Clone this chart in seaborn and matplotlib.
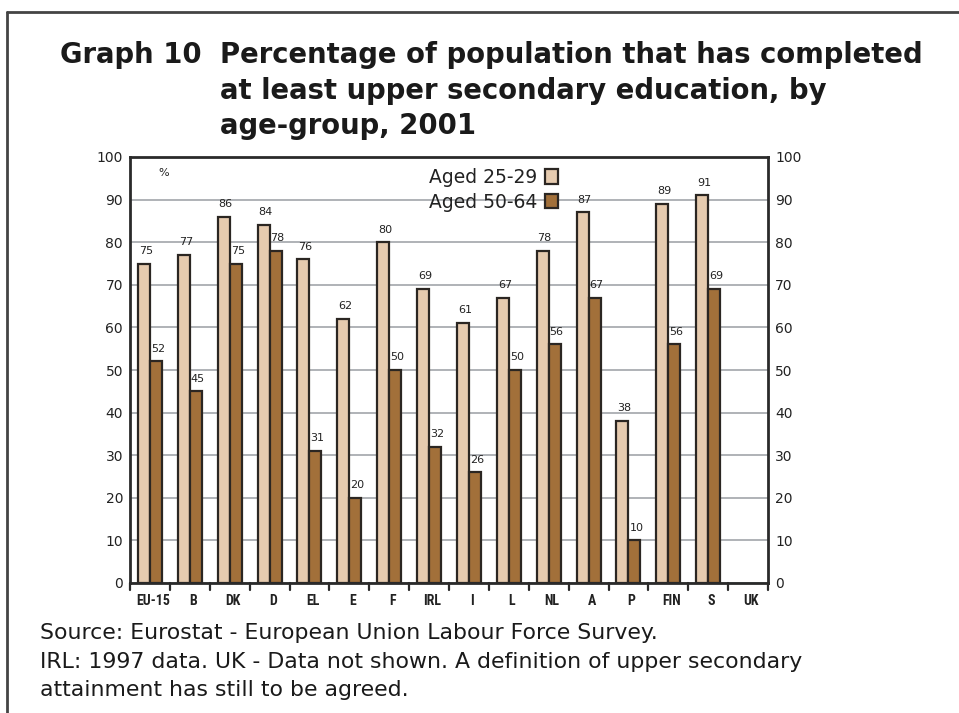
import numpy as np
import pandas as pd
import matplotlib
matplotlib.use("Agg")
import matplotlib.pyplot as plt
from matplotlib import font_manager
from matplotlib.lines import Line2D
import seaborn as sns

# Countries and shares (%) by age group
countries = ["EU-15", "B", "DK", "D", "EL", "E", "F", "IRL", "I", "L",
             "NL", "A", "P", "FIN", "S", "UK"]
aged_25_29 = [75, 77, 86, 84, 76, 62, 80, 69, 61, 67, 78, 87, 38, 89, 91, np.nan]
aged_50_64 = [52, 45, 75, 78, 31, 20, 50, 32, 26, 50, 56, 67, 10, 56, 69, np.nan]
series_names = ["Aged 25-29", "Aged 50-64"]
y_ticks = list(range(0, 101, 10))

available = {f.name for f in font_manager.fontManager.ttflist}
def pick(*names):
    for n in names:
        if n in available:
            return n
    return "DejaVu Sans"

narrow = pick("Liberation Sans Narrow", "Roboto Condensed", "Liberation Sans")
wide = "DejaVu Sans"

sns.set_theme(style="white")
plt.rcParams["font.family"] = [wide]

rows = []
for c, a, b in zip(countries, aged_25_29, aged_50_64):
    if not np.isnan(a):
        rows.append((c, series_names[0], a))
    if not np.isnan(b):
        rows.append((c, series_names[1], b))
df = pd.DataFrame(rows, columns=["country", "group", "value"])

W, H = 959, 713
fig = plt.figure(figsize=(W / 100, H / 100), dpi=100)
fig.patch.set_facecolor("white")

def fx(px):
    return px / W

def fy(py):
    return 1 - py / H

ax = fig.add_axes([fx(130), fy(583), fx(768) - fx(130), fy(157) - fy(583)])

light = "#E6CBAF"
dark = "#A2703A"
edge = "#2b2622"
sns.barplot(data=df, x="country", y="value", hue="group", order=countries,
            hue_order=series_names, palette=[light, dark], width=0.6,
            edgecolor=edge, linewidth=1.6, saturation=1, ax=ax,
            legend=False)

ax.set_ylim(0, 100)
ax.set_xlim(-0.5, len(countries) - 0.5)
ax.set_yticks(y_ticks)
ax.yaxis.grid(True, color="#a9adb1", linewidth=1.3)
ax.set_axisbelow(True)
ax.set_xlabel("")
ax.set_ylabel("")
for s in ax.spines.values():
    s.set_visible(True)
    s.set_color("#2a2a2a")
    s.set_linewidth(2)

ax.tick_params(axis="y", which="both", length=0, labelsize=10, pad=5,
               labelright=True, right=False, labelcolor="#222222")
ax.set_xticks(np.arange(len(countries)) + 0.08)
ax.set_xticklabels(countries, fontsize=10, fontfamily=narrow,
                   fontweight="bold", color="#222222")
ax.tick_params(axis="x", length=0, pad=8)
# small separators between country groups below the axis
for k in range(len(countries) + 1):
    ax.add_line(Line2D([k - 0.5, k - 0.5], [0, -1.6], color="#2a2a2a",
                       linewidth=1.6, clip_on=False))

# value labels above bars
values = [aged_25_29, aged_50_64]
for cont, vals in zip(ax.containers, values):
    finite = [v for v in vals if not np.isnan(v)]
    for bar, v in zip(cont, finite):
        ax.text(bar.get_x() + bar.get_width() / 2 + 0.05, v + 1.8, f"{int(v)}",
                ha="center", va="bottom", fontsize=8, color="#222222")

ax.text(0.2, 97.5, "%", fontsize=8, va="top", ha="left", color="#222222")

handles = [plt.Rectangle((0, 0), 1, 1, facecolor=light, edgecolor=edge, linewidth=1.6),
           plt.Rectangle((0, 0), 1, 1, facecolor=dark, edgecolor=edge, linewidth=1.6)]
leg = ax.legend(handles, series_names, loc="upper right", markerfirst=False,
                bbox_to_anchor=(fx(558), fy(168)), bbox_transform=fig.transFigure,
                frameon=False, fontsize=13.5, handlelength=0.7, handleheight=0.8,
                handletextpad=0.4, labelspacing=0.3, borderaxespad=0,
                borderpad=0)
for t in leg.get_texts():
    t.set_color("#222222")

# title block
title_kw = dict(fontsize=19.8, fontweight="bold", color="#1a1a1a",
                va="baseline", ha="left")
fig.text(fx(60), fy(63), "Graph 10", **title_kw)
fig.text(fx(220), fy(63), "Percentage of population that has completed", **title_kw)
fig.text(fx(220), fy(99), "at least upper secondary education, by", **title_kw)
fig.text(fx(220), fy(134), "age-group, 2001", **title_kw)

# footnotes
foot_kw = dict(fontsize=15.8, color="#1a1a1a", va="baseline", ha="left")
fig.text(fx(40), fy(639), "Source: Eurostat - European Union Labour Force Survey.", **foot_kw)
fig.text(fx(40), fy(668), "IRL: 1997 data. UK - Data not shown. A definition of upper secondary", **foot_kw)
fig.text(fx(40), fy(696), "attainment has still to be agreed.", **foot_kw)

# outer frame (top and left edges)
fig.add_artist(Line2D([fx(7), 1.0], [fy(12), fy(12)], color="#444444",
                      linewidth=2, transform=fig.transFigure))
fig.add_artist(Line2D([fx(7), fx(7)], [fy(12), 0.0], color="#444444",
                      linewidth=2, transform=fig.transFigure))

fig.savefig("out.png", dpi=100, facecolor="white")
